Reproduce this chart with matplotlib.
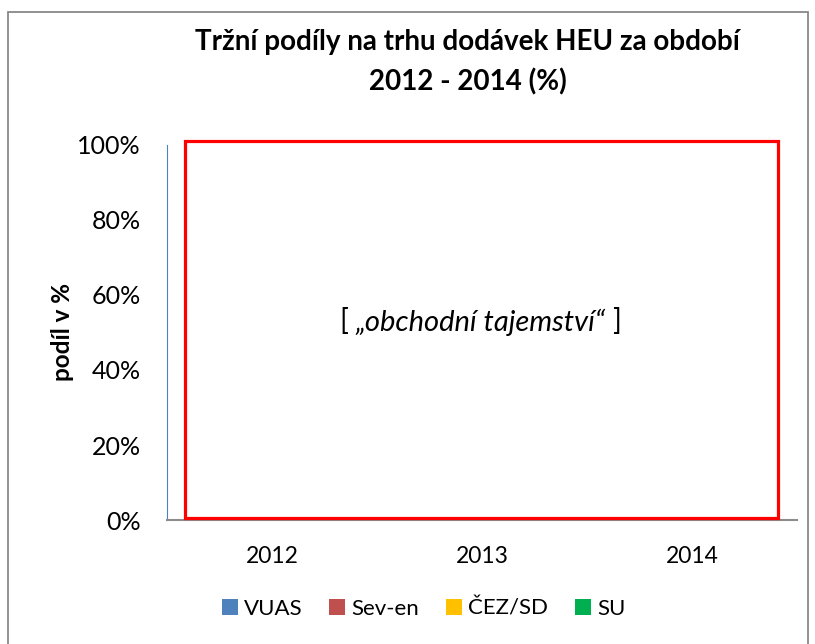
import matplotlib.pyplot as plt
import numpy as np
from matplotlib.patches import Rectangle

# kategorie a serie (skutecne hodnoty jsou v originalu skryte - "obchodni tajemstvi")
years = ["2012", "2013", "2014"]
series = ["VUAS", "Sev-en", "ČEZ/SD", "SU"]
# odhad - pod bilym obdelnikem je videt jen spodni modry okraj (VUAS)
shares = {
    "VUAS": [100, 100, 100],
    "Sev-en": [0, 0, 0],
    "ČEZ/SD": [0, 0, 0],
    "SU": [0, 0, 0],
}
colors = ["#4F81BD", "#C0504D", "#FFC000", "#00B050"]
yticks = [0, 20, 40, 60, 80, 100]

plt.rcParams['font.family'] = ['Lato', 'DejaVu Sans']

fig = plt.figure(figsize=(8.15, 6.44), dpi=100)
ax = fig.add_axes([0.205, 0.1925, 0.773, 0.5825])

x = np.arange(len(years))
bottom = np.zeros(len(years))
for name, col in zip(series, colors):
    vals = np.array(shares[name], dtype=float)
    ax.bar(x, vals, 0.786, bottom=bottom, color=col, label=name, zorder=2)
    bottom += vals

ax.set_xlim(-0.5, 2.5)
ax.set_ylim(0, 100)
ax.set_yticks(yticks)
ax.set_yticklabels([f"{v}%" for v in yticks])
ax.set_xticks(x)
ax.set_xticklabels(years)
ax.tick_params(axis='both', length=0)
ax.tick_params(axis='y', pad=19, labelsize=18)
ax.tick_params(axis='x', pad=19, labelsize=16.5)
for s in ["top", "right"]:
    ax.spines[s].set_visible(False)
ax.spines["left"].set_color("#4F81BD")
ax.spines["bottom"].set_color("#8C8C8C")
ax.spines["bottom"].set_linewidth(1.5)

ax.set_ylabel("podíl v %", fontsize=17.5, fontweight='bold')
ax.yaxis.set_label_coords(-0.148, 0.5)

# zacerneni (bily obdelnik s cervenym okrajem)
ax.add_patch(Rectangle((0.029, 0.005), 0.941, 1.006, transform=ax.transAxes,
                       facecolor='white', edgecolor='#FF0000', lw=2.3,
                       clip_on=False, zorder=5))
t = ax.text(0.497, 0.528, "„obchodní tajemství“", transform=ax.transAxes,
            ha='center', va='center', fontsize=21, style='italic', zorder=6)
fig.canvas.draw()
bb = t.get_window_extent()
cy = (bb.y0 + bb.y1) / 2
fig.text(bb.x0 - 7, cy, "[", transform=None, ha='right', va='center',
         fontsize=21, zorder=6)
fig.text(bb.x1 + 7, cy, "]", transform=None, ha='left', va='center',
         fontsize=21, zorder=6)

fig.suptitle("Tržní podíly na trhu dodávek HEU za období\n2012 - 2014 (%)",
             x=0.574, y=0.955, fontsize=20, fontweight='bold', linespacing=1.6)

fig.legend(loc='center', bbox_to_anchor=(0.52, 0.055), ncol=4, frameon=False,
           fontsize=16, handlelength=0.7, handleheight=0.7, handletextpad=0.3,
           columnspacing=1.2)

# ramecek grafu
fig.add_artist(Rectangle((8 / 815, -0.02), 800 / 815, 1.02 - 12 / 644,
                         transform=fig.transFigure, fill=False,
                         edgecolor='#888888', lw=1.3))

fig.savefig("out.png", dpi=100)
